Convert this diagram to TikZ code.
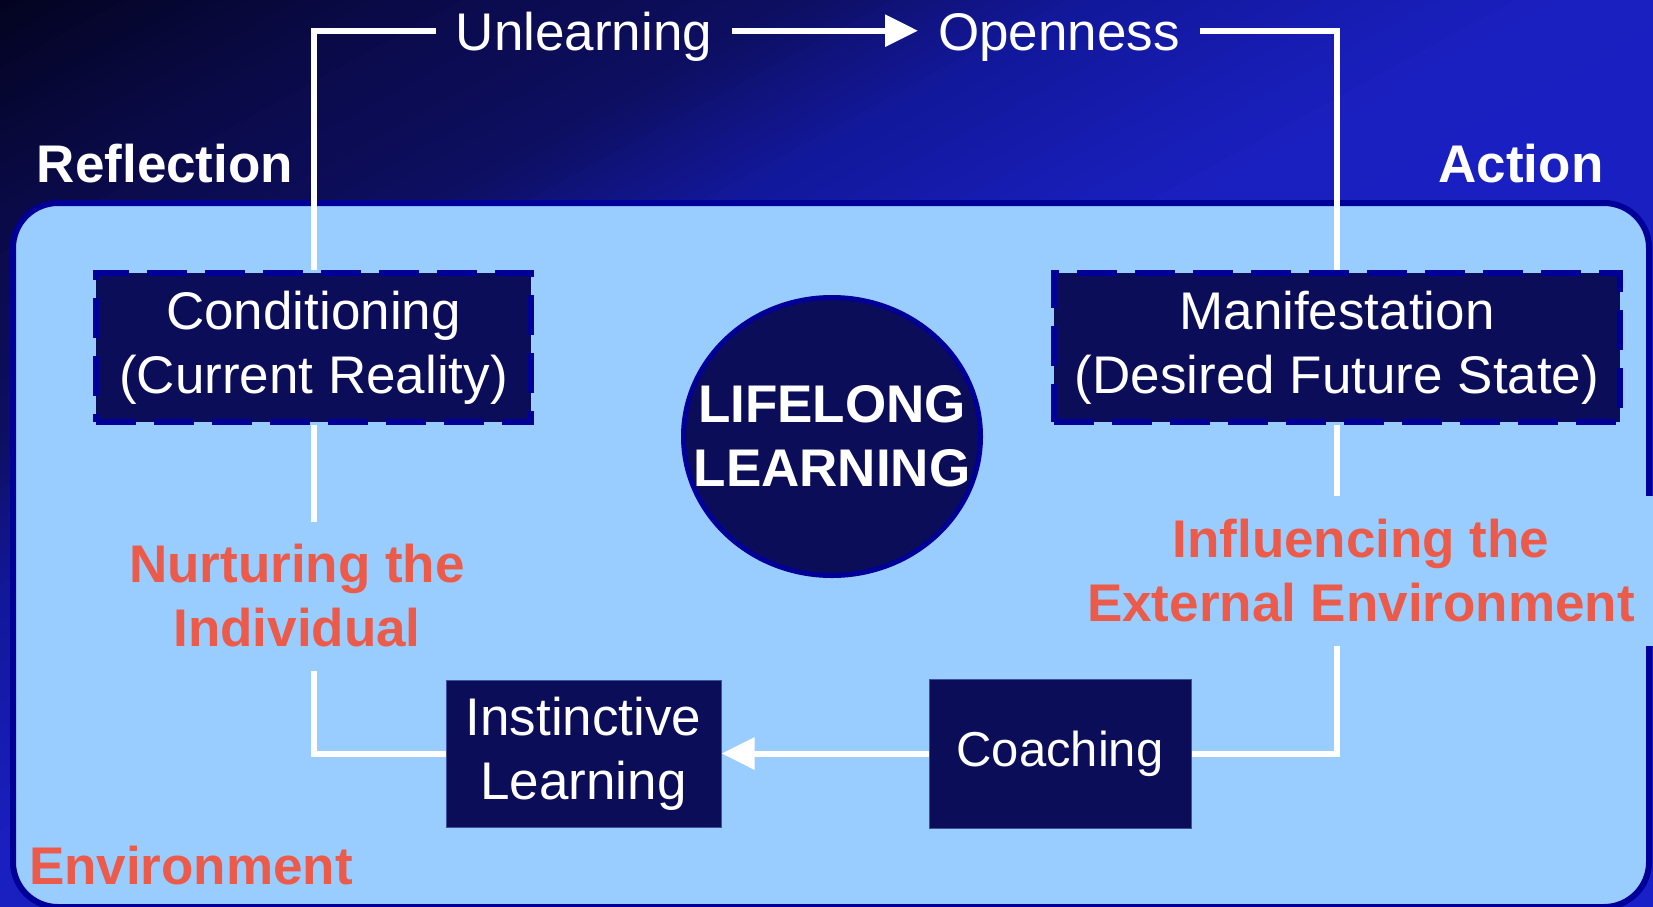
\documentclass[tikz,border=0pt]{standalone}
\usepackage{fontspec}
\setmainfont{Liberation Sans}
\usetikzlibrary{arrows.meta,shapes.geometric}

\definecolor{navy}{HTML}{0C0D58}
\definecolor{edgeblue}{HTML}{000099}
\definecolor{paleblue}{HTML}{99CCFF}
\definecolor{coral}{HTML}{EC5A4A}
\definecolor{rimblue}{HTML}{4050A0}
% backdrop colour stops, from the upper left corner outwards
\definecolor{bgA}{HTML}{030320}
\definecolor{bgB}{HTML}{05052A}
\definecolor{bgC}{HTML}{0A0A48}
\definecolor{bgD}{HTML}{0D0E60}
\definecolor{bgE}{HTML}{12189A}
\definecolor{bgF}{HTML}{1A1FC0}
\definecolor{bgG}{HTML}{1A20C8}

\def\bgW{1653}
\def\bgH{906}
% one colour band of the diagonal backdrop: from f=#1 to f=#2, colour #3 to #4;
% lines of equal colour run parallel to the lower-left/upper-right diagonal
\newcommand\bgband[4]{%
  \foreach \k in {0,...,11}{%
    \pgfmathsetmacro\fa{#1+(#2-#1)*\k/12}%
    \pgfmathsetmacro\pc{100*(\k+0.5)/12}%
    \fill[#4!\pc!#3] ({\bgW*(2*\fa+1)},-\bgH) -- ({\bgW*3.02},-\bgH)
      -- ({\bgW*0.02},{2*\bgH}) -- ({\bgW*(2*\fa-2)},{2*\bgH}) -- cycle;
  }}

\begin{document}
\begin{tikzpicture}[x=1pt,y=-1pt,
  txt/.style={font=\fontsize{53pt}{64pt}\selectfont},
  boldtxt/.style={font=\fontsize{53pt}{64pt}\selectfont\bfseries},
  darkbox/.style={txt, fill=navy, text=white, align=center, inner sep=0pt},
  dashbox/.style={darkbox, draw=edgeblue, line width=6pt, dash pattern=on 40pt off 18pt},
  solidbox/.style={darkbox, draw=rimblue, line width=1pt},
  toplabel/.style={txt, text=white, text height=38.6pt, text depth=0pt, inner xsep=20pt, inner ysep=0pt},
  sidelabel/.style={boldtxt, text=white, inner sep=0pt},
  redlabel/.style={boldtxt, text=coral, align=center, fill=paleblue},
  link/.style={draw=white, line width=6pt},
  linkarrow/.style={link, -{Triangle[length=33pt,width=31pt]}}
]
\useasboundingbox (0,0) rectangle (1653,906);

% backdrop
\begin{scope}
  \clip (0,0) rectangle (1653,906);
  \fill[bgA] (0,0) rectangle (1653,906);
  \bgband{0}{0.03}{bgA}{bgB}
  \bgband{0.03}{0.12}{bgB}{bgC}
  \bgband{0.12}{0.24}{bgC}{bgD}
  \bgband{0.24}{0.33}{bgD}{bgE}
  \bgband{0.33}{0.47}{bgE}{bgF}
  \bgband{0.47}{1.0}{bgF}{bgG}
\end{scope}

% the environment panel
\draw[draw=edgeblue, fill=paleblue, line width=6pt, rounded corners=45pt]
  (13,203) rectangle (1649,907);

% top row
\node[toplabel] (unl) at (584,30.7) {Unlearning};
\node[toplabel] (opn) at (1059,30.7) {Openness};

% corner captions
\node[sidelabel, anchor=base] (refl) at (165,182) {Reflection};
\node[sidelabel, anchor=base] (act) at (1521,182) {Action};
\node[boldtxt, text=coral, inner sep=0pt, anchor=base] (env) at (191,884) {Environment};

% stage boxes
\node[dashbox, minimum width=435pt, minimum height=149pt] (cond) at (313.5,347.5)
  {Conditioning\\(Current Reality)};
\node[dashbox, minimum width=566pt, minimum height=149pt] (man) at (1337,347.5)
  {Manifestation\\(Desired Future State)};
\node[solidbox, minimum width=275pt, minimum height=147pt] (inst) at (583.5,753.5)
  {Instinctive\\Learning};
\node[solidbox, minimum width=262pt, minimum height=149pt,
      font=\fontsize{49pt}{60pt}\selectfont] (coach) at (1060,753.5) {Coaching};

% centre disc
\node[ellipse, fill=navy, draw=edgeblue, line width=5pt, inner sep=0pt,
      minimum width=297pt, minimum height=278pt] (core) at (832,436.5) {};
\node[boldtxt, text=white, align=center, inner sep=0pt] (coretxt) at (core.center)
  {LIFELONG\\LEARNING};

% the learning loop
\draw[linkarrow] (unl.east) -- (opn.west);
\draw[link] (unl.west) -| (cond.north);
\draw[link] (opn.east) -| (man.north);
\draw[link] (cond.south) |- (inst.west);
\draw[link] (man.south) |- (coach.east);
\draw[linkarrow] (coach.west) -- (inst.east);

% side captions, set on the panel colour over the loop
\node[redlabel, inner xsep=10pt, minimum height=149pt] (nurt) at (297,596)
  {Nurturing the\\Individual};
\node[redlabel, inner xsep=20pt, minimum height=150pt] (infl) at (1361,571)
  {Influencing the\\External Environment};
\end{tikzpicture}
\end{document}
